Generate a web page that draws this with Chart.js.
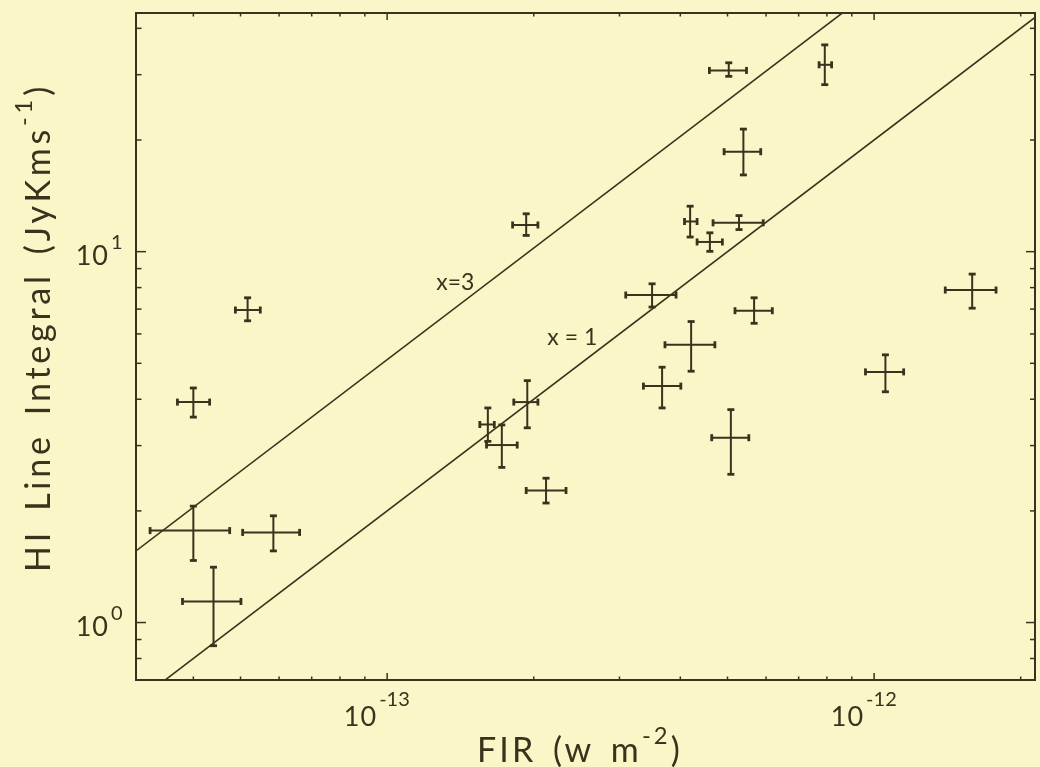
<!DOCTYPE html>
<html>
<head>
<meta charset="utf-8">
<script src="https://cdn.jsdelivr.net/npm/chart.js@4.4.1/dist/chart.umd.min.js"></script>
<style>
  html, body { margin: 0; padding: 0; background: #fbf6c8; }
  #wrap { width: 1040px; height: 767px; }
</style>
</head>
<body>
<div id="wrap"><canvas id="c" width="1040" height="767"></canvas></div>
<script>
// FIR flux (W m^-2) against HI line integral (Jy km s^-1), with error ranges
const firVal = [5.17e-14, 4.00e-14, 4.00e-14, 4.40e-14, 5.84e-14, 1.93e-13, 1.61e-13, 1.72e-13,
  1.94e-13, 2.12e-13, 3.50e-13, 3.67e-13, 4.21e-13, 4.19e-13, 4.60e-13, 5.28e-13, 5.08e-13,
  5.67e-13, 5.39e-13, 5.03e-13, 7.92e-13, 1.055e-12, 1.59e-12];
const firLo = [4.88e-14, 3.71e-14, 3.26e-14, 3.80e-14, 5.05e-14, 1.81e-13, 1.55e-13, 1.60e-13,
  1.82e-13, 1.93e-13, 3.09e-13, 3.36e-13, 3.72e-13, 4.08e-13, 4.33e-13, 4.67e-13, 4.64e-13,
  5.18e-13, 4.92e-13, 4.59e-13, 7.71e-13, 9.60e-13, 1.40e-12];
const firHi = [5.49e-14, 4.32e-14, 4.75e-14, 5.01e-14, 6.61e-14, 2.04e-13, 1.66e-13, 1.85e-13,
  2.04e-13, 2.33e-13, 3.92e-13, 4.01e-13, 4.71e-13, 4.33e-13, 4.88e-13, 5.92e-13, 5.53e-13,
  6.18e-13, 5.85e-13, 5.47e-13, 8.18e-13, 1.15e-12, 1.78e-12];
const hiVal = [6.96, 3.93, 1.77, 1.14, 1.75, 11.8, 3.42, 3.01, 3.93, 2.27, 7.64, 4.34, 5.61,
  12.06, 10.62, 11.96, 3.15, 6.93, 18.6, 30.8, 31.9, 4.74, 7.88];
const hiLo = [6.51, 3.58, 1.47, 0.866, 1.56, 11.06, 3.08, 2.62, 3.35, 2.10, 7.09, 3.79, 4.76,
  10.95, 10.02, 11.47, 2.51, 6.41, 16.1, 29.7, 28.2, 4.19, 7.04];
const hiHi = [7.51, 4.29, 2.06, 1.41, 1.94, 12.65, 3.79, 3.41, 4.49, 2.45, 8.19, 4.88, 6.48,
  13.26, 11.24, 12.51, 3.75, 7.51, 21.4, 32.3, 36.1, 5.27, 8.70];

// the two reference lines (end points, clipped by the plot box)
const lineFir = [3.05e-14, 2.14e-12];
const lineX1 = [0.61, 42.8];
const lineX3 = [1.56, 109.4];
const lineLabels = ['x=3', 'x = 1'];
const lineLabelFir = [1.38e-13, 2.40e-13];
const lineLabelHi = [8.26, 5.85];

// axes
const xMajor = [1e-13, 1e-12];
const xMinor = [4e-14, 5e-14, 6e-14, 7e-14, 8e-14, 9e-14, 2e-13, 3e-13, 4e-13, 5e-13, 6e-13,
  7e-13, 8e-13, 9e-13, 2e-12];
const xTickExp = ['-13', '-12'];
const yMajor = [1, 10];
const yMinor = [0.8, 0.9, 2, 3, 4, 5, 6, 7, 8, 9, 20, 30, 40];
const yTickExp = ['0', '1'];

const ink = '#3a321c';
const paper = '#fbf6c8';

function setFont(ctx, size) {
  ctx.font = `400 ${size}px Lato, "DejaVu Sans", sans-serif`;
}

// text with raised exponent, left aligned at x, baseline y
function supText(ctx, base, exp, tail, x, y, size, sp) {
  ctx.letterSpacing = sp + 'px';
  ctx.wordSpacing = (sp * 1.5) + 'px';
  setFont(ctx, size);
  ctx.fillText(base, x, y);
  let w = ctx.measureText(base).width;
  setFont(ctx, size * 0.7);
  ctx.fillText(exp, x + w, y - size * 0.52);
  w += ctx.measureText(exp).width;
  setFont(ctx, size);
  ctx.fillText(tail, x + w, y);
  w += ctx.measureText(tail).width;
  ctx.letterSpacing = '0px';
  ctx.wordSpacing = '0px';
  return w;
}

// spacing so the title spans the same length as the original
function fitSpacing(ctx, base, exp, tail, size, target) {
  ctx.save();
  ctx.globalAlpha = 0;
  const w = supText(ctx, base, exp, tail, 0, 0, size, 0);
  ctx.restore();
  const str = base + exp + tail;
  const n = str.length + 1.5 * (str.split(' ').length - 1);
  return Math.max(0, (target - w) / n);
}

const errorBars = {
  id: 'errorBars',
  afterDatasetsDraw(chart) {
    const { ctx, scales: { x, y } } = chart;
    const seg = (x1, y1, x2, y2) => { ctx.beginPath(); ctx.moveTo(x1, y1); ctx.lineTo(x2, y2); ctx.stroke(); };
    const cap = 3.5;
    ctx.save();
    ctx.strokeStyle = ink;
    firVal.forEach((v, i) => {
      const cx = x.getPixelForValue(v), cy = y.getPixelForValue(hiVal[i]);
      const x0 = x.getPixelForValue(firLo[i]), x1 = x.getPixelForValue(firHi[i]);
      const y0 = y.getPixelForValue(hiLo[i]), y1 = y.getPixelForValue(hiHi[i]);
      ctx.lineWidth = 2;
      seg(x0, cy, x1, cy);
      seg(cx, y0, cx, y1);
      ctx.lineWidth = 2.8;
      seg(x0, cy - cap, x0, cy + cap);
      seg(x1, cy - cap, x1, cy + cap);
      seg(cx - cap, y0, cx + cap, y0);
      seg(cx - cap, y1, cx + cap, y1);
    });
    ctx.restore();
  }
};

const frame = {
  id: 'frame',
  beforeDraw(chart) {
    const { ctx, width, height } = chart;
    ctx.save();
    ctx.fillStyle = paper;
    ctx.fillRect(0, 0, width, height);
    ctx.restore();
  },
  afterDraw(chart) {
    const { ctx, chartArea: a, scales: { x, y } } = chart;
    const seg = (x1, y1, x2, y2) => { ctx.beginPath(); ctx.moveTo(x1, y1); ctx.lineTo(x2, y2); ctx.stroke(); };
    ctx.save();
    ctx.strokeStyle = ink;
    ctx.fillStyle = ink;
    ctx.lineWidth = 2;
    ctx.strokeRect(a.left, a.top, a.right - a.left, a.bottom - a.top);

    // inward ticks on all four sides
    ctx.lineWidth = 1.5;
    xMajor.forEach(v => {
      const px = x.getPixelForValue(v);
      seg(px, a.bottom, px, a.bottom - 7);
      seg(px, a.top, px, a.top + 7);
    });
    xMinor.forEach(v => {
      const px = x.getPixelForValue(v);
      seg(px, a.bottom, px, a.bottom - 3.5);
      seg(px, a.top, px, a.top + 3.5);
    });
    yMajor.forEach(v => {
      const py = y.getPixelForValue(v);
      seg(a.left, py, a.left + 10, py);
      seg(a.right, py, a.right - 9, py);
    });
    yMinor.forEach(v => {
      const py = y.getPixelForValue(v);
      seg(a.left, py, a.left + 5.5, py);
      seg(a.right, py, a.right - 5, py);
    });

    // tick labels
    ctx.textBaseline = 'middle';
    xMajor.forEach((v, i) => {
      const px = x.getPixelForValue(v);
      setFont(ctx, 27);
      ctx.textAlign = 'right';
      ctx.letterSpacing = '1px';
      ctx.fillText('10', px - 10, a.bottom + 37);
      ctx.letterSpacing = '0px';
      setFont(ctx, 20);
      ctx.textAlign = 'left';
      ctx.fillText(xTickExp[i], px - 8, a.bottom + 20);
    });
    yMajor.forEach((v, i) => {
      const py = y.getPixelForValue(v);
      setFont(ctx, 27);
      ctx.textAlign = 'right';
      ctx.letterSpacing = '1px';
      ctx.fillText('10', a.left - 27, py + 5);
      ctx.letterSpacing = '0px';
      setFont(ctx, 20);
      ctx.textAlign = 'left';
      ctx.fillText(yTickExp[i], a.left - 25, py - 9);
    });

    // line labels
    setFont(ctx, 23);
    ctx.textAlign = 'center';
    lineLabels.forEach((t, i) => {
      ctx.fillText(t, x.getPixelForValue(lineLabelFir[i]), y.getPixelForValue(lineLabelHi[i]));
    });

    // axis titles
    ctx.textAlign = 'left';
    ctx.textBaseline = 'alphabetic';
    let sp = fitSpacing(ctx, 'FIR (w m', '-2', ')', 34, 206);
    supText(ctx, 'FIR (w m', '-2', ')', 477, 762, 34, sp);

    ctx.save();
    ctx.translate(50, 572);
    ctx.rotate(-Math.PI / 2);
    sp = fitSpacing(ctx, 'HI Line Integral (JyKms', '-1', ')', 34, 489);
    supText(ctx, 'HI Line Integral (JyKms', '-1', ')', 0, 0, 34, sp);
    ctx.restore();

    ctx.restore();
  }
};

new Chart(document.getElementById('c'), {
  type: 'scatter',
  data: {
    datasets: [
      {
        data: firVal.map((v, i) => ({ x: v, y: hiVal[i] })),
        pointRadius: 0,
        showLine: false
      },
      {
        data: lineFir.map((v, i) => ({ x: v, y: lineX3[i] })),
        showLine: true,
        borderColor: ink,
        borderWidth: 1.6,
        pointRadius: 0
      },
      {
        data: lineFir.map((v, i) => ({ x: v, y: lineX1[i] })),
        showLine: true,
        borderColor: ink,
        borderWidth: 1.6,
        pointRadius: 0
      }
    ]
  },
  options: {
    responsive: false,
    devicePixelRatio: 1,
    animation: false,
    layout: { padding: { left: 136, right: 5, top: 13, bottom: 87 } },
    scales: {
      x: { type: 'logarithmic', min: 3.05e-14, max: 2.14e-12, display: false },
      y: { type: 'logarithmic', min: 0.717, max: 44, display: false }
    },
    plugins: {
      legend: { display: false },
      tooltip: { enabled: false }
    }
  },
  plugins: [frame, errorBars]
});
</script>
</body>
</html>
